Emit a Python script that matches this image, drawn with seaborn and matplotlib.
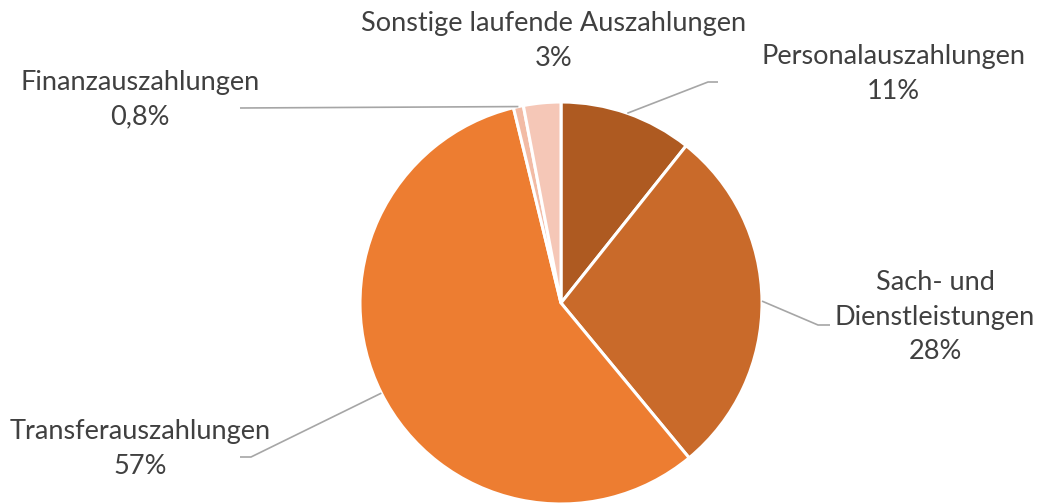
import numpy as np
import matplotlib.pyplot as plt
import seaborn as sns

categories = [
    'Personalauszahlungen',
    'Sach- und\nDienstleistungen',
    'Transferauszahlungen',
    'Finanzauszahlungen',
    'Sonstige laufende Auszahlungen',
]
shares = [10.7, 28.3, 57.2, 0.8, 3.0]
pct_labels = ['11%', '28%', '57%', '0,8%', '3%']
colors = ['#AE5A21', '#C96A2A', '#ED7D31', '#F2BBA5', '#F5C7B7']

W, H = 1039, 503
cx, cy, r = 561, H - 303, 201

sns.set_theme(style='white')
plt.rcParams['font.family'] = ['Lato', 'DejaVu Sans']

fig = plt.figure(figsize=(W / 100, H / 100), dpi=100)
ax = fig.add_axes([0, 0, 1, 1])

wedges, _ = ax.pie(
    shares,
    colors=colors,
    startangle=90,
    counterclock=False,
    center=(cx, cy),
    radius=r,
    wedgeprops=dict(edgecolor='white', linewidth=2.2),
)
ax.set_xlim(0, W)
ax.set_ylim(0, H)
ax.set_aspect('equal')
ax.axis('off')

# label anchor (pixel coords from top-left) and elbow of leader line
label_pos = [(893, 74), (935, 317), (140, 449), (140, 100), (554, 41)]
elbows = [[(708, 82), (718, 82)],
          [(818, 325), (830, 325)],
          [(251, 457), (240, 457)],
          [(240, 108)],
          None]

for w, lab, pct, pos, elb in zip(wedges, categories, pct_labels, label_pos, elbows):
    ang = np.deg2rad((w.theta1 + w.theta2) / 2)
    if elb is not None:
        xs = [cx + r * np.cos(ang)] + [p[0] for p in elb]
        ys = [cy + r * np.sin(ang)] + [H - p[1] for p in elb]
        ax.plot(xs, ys, color='#A6A6A6', lw=1.2, solid_capstyle='butt')
    ax.text(pos[0], H - pos[1], f'{lab}\n{pct}', ha='center', va='center',
            fontsize=19.5, color='#404040', linespacing=1.48)

fig.savefig('out.png', dpi=100)
